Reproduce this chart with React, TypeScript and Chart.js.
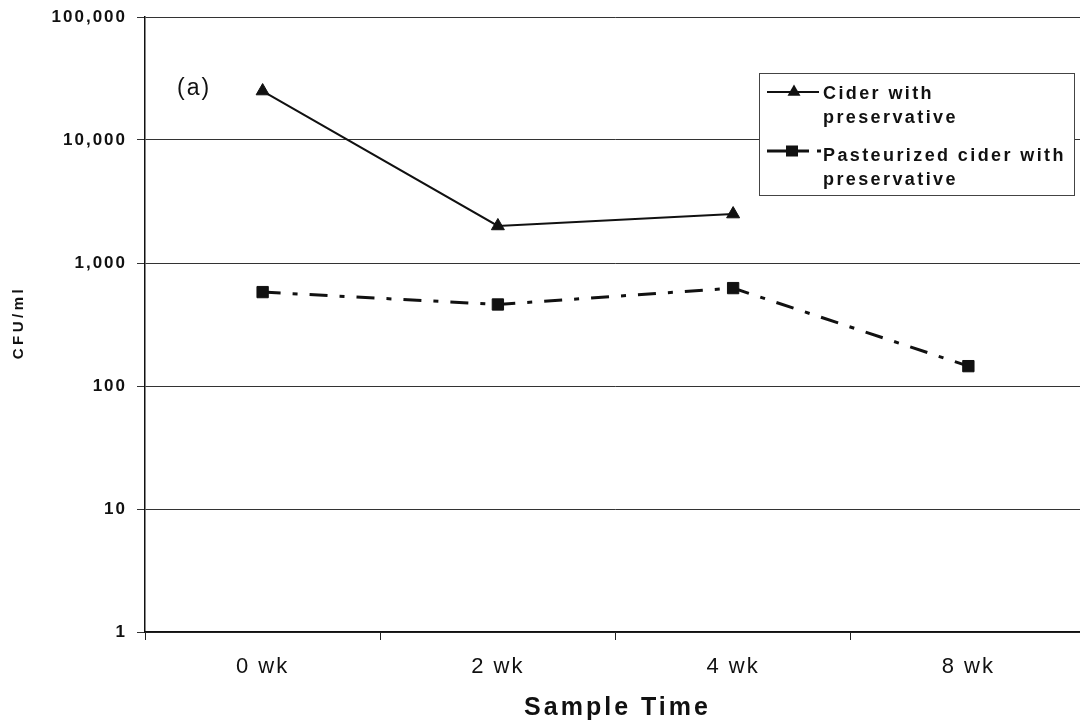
import React, { useEffect, useRef } from 'react';
import { Chart, registerables } from 'chart.js';

Chart.register(...registerables);

// Sample times and plate counts (CFU/ml)
const sampleTimes = ['0 wk', '2 wk', '4 wk', '8 wk'];
const ciderWithPreservative = [25000, 2000, 2500, null];
const pasteurizedWithPreservative = [580, 460, 625, 145];
const yTickValues = [1, 10, 100, 1000, 10000, 100000];

const seriesNames = [
  ['Cider with', 'preservative'],
  ['Pasteurized cider with', 'preservative'],
];
const panelLabel = '(a)';
const xTitle = 'Sample Time';
const yTitle = 'CFU/ml';

const FONT = "'Liberation Sans', Arial, Helvetica, sans-serif";
const INK = '#111';

// Titles, panel tag and the boxed legend are drawn on top of the chart.
const decorations = {
  id: 'decorations',
  beforeDraw(chart: any) {
    chart.ctx.letterSpacing = '2px';
  },
  afterDraw(chart: any) {
    const { ctx, chartArea } = chart;
    ctx.save();
    ctx.fillStyle = INK;
    ctx.strokeStyle = INK;

    // x axis title
    ctx.letterSpacing = '3px';
    ctx.font = `bold 25px ${FONT}`;
    ctx.textAlign = 'center';
    ctx.textBaseline = 'middle';
    ctx.fillText(xTitle, (chartArea.left + chartArea.right) / 2 + 2, 708);

    // y axis title
    ctx.save();
    ctx.letterSpacing = '3.5px';
    ctx.font = `bold 15px ${FONT}`;
    ctx.translate(19, (chartArea.top + chartArea.bottom) / 2);
    ctx.rotate(-Math.PI / 2);
    ctx.fillText(yTitle, 2, 0);
    ctx.restore();

    // panel tag
    ctx.letterSpacing = '2px';
    ctx.font = `23px ${FONT}`;
    ctx.textAlign = 'left';
    ctx.fillText(panelLabel, 177, 89);

    // legend box
    const bx = 759.5, by = 73.5, bw = 315, bh = 122;
    ctx.fillStyle = '#fff';
    ctx.fillRect(bx, by, bw, bh);
    ctx.strokeStyle = '#444';
    ctx.lineWidth = 1;
    ctx.strokeRect(bx, by, bw, bh);

    ctx.fillStyle = INK;
    ctx.strokeStyle = INK;

    // sample 1: solid line with triangle
    ctx.lineWidth = 2;
    ctx.beginPath();
    ctx.moveTo(767, 92);
    ctx.lineTo(819, 92);
    ctx.stroke();
    const tx = 794, ty = 92, tr = 7.5;
    ctx.beginPath();
    ctx.moveTo(tx, ty - tr);
    ctx.lineTo(tx + tr * Math.sin((2 * Math.PI) / 3), ty + tr / 2);
    ctx.lineTo(tx - tr * Math.sin((2 * Math.PI) / 3), ty + tr / 2);
    ctx.closePath();
    ctx.fill();

    // sample 2: dash-dot line with square
    ctx.lineWidth = 3;
    ctx.beginPath();
    ctx.moveTo(767, 151);
    ctx.lineTo(809, 151);
    ctx.moveTo(817, 151);
    ctx.lineTo(821, 151);
    ctx.stroke();
    ctx.fillRect(792 - 6, 151 - 5.5, 12, 11);

    // legend text
    ctx.letterSpacing = '2.4px';
    ctx.font = `bold 18px ${FONT}`;
    ctx.textAlign = 'left';
    ctx.textBaseline = 'alphabetic';
    ctx.fillText(seriesNames[0][0], 823, 99);
    ctx.fillText(seriesNames[0][1], 823, 123);
    ctx.fillText(seriesNames[1][0], 823, 161);
    ctx.fillText(seriesNames[1][1], 823, 185);

    ctx.restore();
  },
};

export default function App() {
  const canvasRef = useRef<HTMLCanvasElement | null>(null);

  useEffect(() => {
    const canvas = canvasRef.current;
    if (!canvas) return;
    const chart = new Chart(canvas, {
      type: 'line',
      data: {
        labels: sampleTimes,
        datasets: [
          {
            label: seriesNames[0].join(' '),
            data: ciderWithPreservative,
            borderColor: INK,
            backgroundColor: INK,
            borderWidth: 2,
            pointStyle: 'triangle',
            pointRadius: 7.5,
            pointBorderWidth: 1,
            pointBackgroundColor: INK,
            pointBorderColor: INK,
            tension: 0,
          },
          {
            label: seriesNames[1].join(' '),
            data: pasteurizedWithPreservative,
            borderColor: INK,
            backgroundColor: INK,
            borderWidth: 3,
            borderDash: [18, 12, 5, 12],
            pointStyle: 'rect',
            pointRadius: 8,
            pointBorderWidth: 1,
            pointBackgroundColor: INK,
            pointBorderColor: INK,
            tension: 0,
          },
        ],
      },
      options: {
        responsive: false,
        animation: false,
        layout: { padding: { left: 0, right: 6, top: 17, bottom: 0 } },
        plugins: {
          legend: { display: false },
          tooltip: { enabled: false },
        },
        scales: {
          x: {
            type: 'category',
            offset: true,
            grid: {
              display: true,
              drawOnChartArea: false,
              drawTicks: true,
              tickLength: 8,
              offset: true,
              color: '#222',
              lineWidth: 1,
            },
            border: { display: true, color: INK, width: 1.5 },
            ticks: {
              color: INK,
              font: { family: FONT, size: 22 },
              padding: 14,
              maxRotation: 0,
            },
            afterFit: (s: any) => {
              s.height = 96;
              s.paddingLeft = 0;
              s.paddingRight = 0;
            },
          },
          y: {
            type: 'logarithmic',
            min: 1,
            max: 100000,
            afterBuildTicks: (s: any) => {
              s.ticks = yTickValues.map((v) => ({ value: v }));
            },
            grid: {
              color: '#333',
              lineWidth: 1,
              drawTicks: true,
              tickLength: 8,
            },
            border: { display: true, color: INK, width: 1.5 },
            ticks: {
              color: INK,
              font: { family: FONT, size: 17, weight: 'bold' },
              padding: 10,
              callback: (v: any) => Number(v).toLocaleString('en-US'),
            },
            afterFit: (s: any) => {
              s.width = 145;
              s.paddingTop = 0;
              s.paddingBottom = 0;
            },
          },
        },
      },
      plugins: [decorations],
    });
    return () => chart.destroy();
  }, []);

  return (
    <div
      style={{
        position: 'fixed',
        left: 0,
        top: 0,
        width: 1080,
        height: 728,
        overflow: 'hidden',
        background: '#fff',
      }}
    >
      <canvas
        ref={canvasRef}
        width={1095}
        height={728}
        style={{ display: 'block', width: 1095, height: 728 }}
      />
    </div>
  );
}
